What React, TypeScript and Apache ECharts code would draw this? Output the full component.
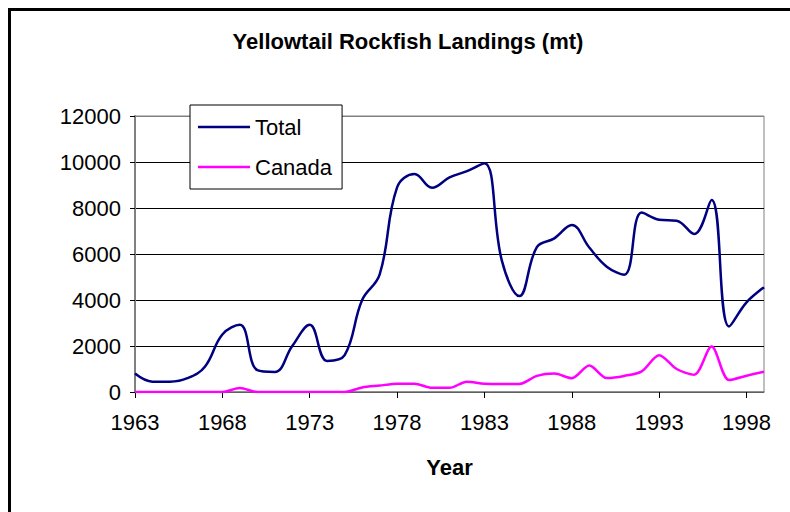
import React, { useEffect, useRef } from "react";
import * as echarts from "echarts";

const years: string[] = [
  "1963", "1964", "1965", "1966", "1967", "1968", "1969", "1970", "1971", "1972",
  "1973", "1974", "1975", "1976", "1977", "1978", "1979", "1980", "1981", "1982",
  "1983", "1984", "1985", "1986", "1987", "1988", "1989", "1990", "1991", "1992",
  "1993", "1994", "1995", "1996", "1997", "1998", "1999",
];

const total: number[] = [
  800, 450, 450, 600, 1100, 2500, 2920, 950, 870, 2000,
  2920, 1350, 1600, 4000, 5100, 8900, 9480, 8880, 9330, 9600,
  9950, 5700, 4170, 6300, 6680, 7260, 6280, 5450, 5100, 7800,
  7490, 7450, 6870, 8350, 2850, 3900, 4550,
];

const canada: number[] = [
  0, 0, 0, 0, 0, 0, 170, 0, 0, 0,
  0, 0, 0, 200, 280, 360, 360, 180, 180, 450,
  360, 350, 350, 700, 800, 600, 1150, 610, 700, 900,
  1600, 1000, 750, 1980, 520, 710, 880,
];

const seriesNames = ["Total", "Canada"];
const titleText = "Yellowtail Rockfish Landings (mt)";
const xAxisTitle = "Year";

const FONT = "'Liberation Sans', Arial, sans-serif";

export default function App() {
  const ref = useRef<HTMLDivElement>(null);

  useEffect(() => {
    if (!ref.current) return;
    const chart = echarts.init(ref.current, null, { renderer: "svg" });
    chart.setOption({
      animation: false,
      backgroundColor: "#ffffff",
      textStyle: { fontFamily: FONT, color: "#000" },
      title: {
        text: titleText,
        left: 403,
        top: 25,
        textAlign: "center",
        textStyle: { fontFamily: FONT, fontSize: 22, fontWeight: "bold", color: "#000" },
      },
      legend: {
        data: seriesNames,
        orient: "vertical",
        left: 190,
        top: 105,
        padding: [11, 10, 11, 8],
        icon: "rect",
        itemWidth: 52,
        itemHeight: 2.5,
        itemGap: 18,
        backgroundColor: "#ffffff",
        borderColor: "#000",
        borderWidth: 1,
        borderRadius: 0,
        textStyle: { fontFamily: FONT, fontSize: 22, color: "#000", lineHeight: 22 },
      },
      grid: {
        left: 135,
        right: 26,
        top: 116,
        bottom: 120,
        show: true,
        borderColor: "#808080",
        borderWidth: 1,
        backgroundColor: "transparent",
        containLabel: false,
        outerBoundsMode: "none",
      },
      xAxis: {
        type: "category",
        data: years,
        boundaryGap: false,
        name: xAxisTitle,
        nameLocation: "middle",
        nameGap: 64,
        nameTextStyle: { fontFamily: FONT, fontSize: 22, fontWeight: "bold", color: "#000" },
        axisLine: { show: true, lineStyle: { color: "#808080", width: 1.5 } },
        axisTick: { show: true, interval: 4, length: 6, lineStyle: { color: "#000", width: 1 } },
        axisLabel: { interval: 4, fontFamily: FONT, fontSize: 22, color: "#000", margin: 19 },
        splitLine: { show: false },
      },
      yAxis: {
        type: "value",
        min: 0,
        max: 12000,
        interval: 2000,
        axisLine: { show: true, lineStyle: { color: "#808080", width: 2 } },
        axisTick: { show: true, length: 5, lineStyle: { color: "#000", width: 1 } },
        axisLabel: {
          fontFamily: FONT,
          fontSize: 22,
          color: "#000",
          margin: 14,
          formatter: (v: number) => String(v),
        },
        splitLine: {
          show: true,
          lineStyle: {
            color: ["#000", "#000", "#000", "#000", "#000", "#000", "#808080"],
            width: 1,
          },
        },
      },
      series: [
        {
          name: seriesNames[0],
          type: "line",
          data: total,
          smooth: 0.4,
          symbol: "none",
          lineStyle: { color: "#000080", width: 2.5 },
          itemStyle: { color: "#000080" },
        },
        {
          name: seriesNames[1],
          type: "line",
          data: canada,
          smooth: 0.3,
          symbol: "none",
          lineStyle: { color: "#ff00ff", width: 2.5 },
          itemStyle: { color: "#ff00ff" },
        },
      ],
      graphic: [
        {
          type: "rect",
          silent: true,
          shape: { x: 9.5, y: 9.5, width: 820, height: 540 },
          style: { fill: "none", stroke: "#000", lineWidth: 3 },
        },
      ],
    });
    return () => chart.dispose();
  }, []);

  return (
    <div
      ref={ref}
      style={{ position: "absolute", left: 0, top: 0, width: 790, height: 512, background: "#fff" }}
    />
  );
}
